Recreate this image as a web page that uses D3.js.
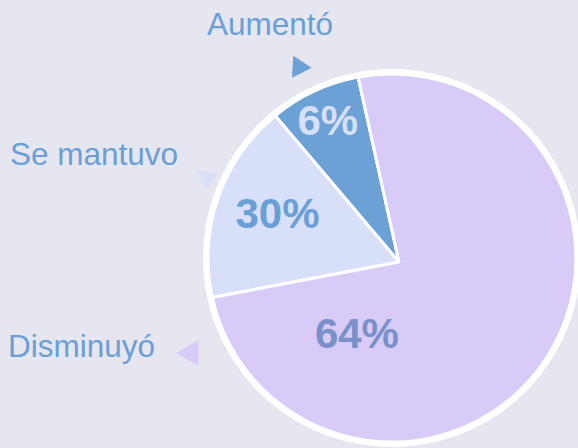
<!DOCTYPE html>
<html>
<head>
<meta charset="utf-8">
<script src="https://cdn.jsdelivr.net/npm/d3@7"></script>
<style>
  html, body { margin: 0; padding: 0; background: #e6e6f0; }
  svg { display: block; font-family: "Liberation Sans", Arial, Helvetica, sans-serif; }
</style>
</head>
<body>
<svg width="578" height="448"></svg>
<script>
// data
var categories = ["Aumentó", "Se mantuvo", "Disminuyó"];
var shares = [8, 17.5, 74.5];
var pctLabels = ["6%", "30%", "64%"];

// style
var fills = ["#6ca1d6", "#d8dff8", "#d9cbf8"];
var pctColors = ["#d8dff8", "#6a9fd6", "#7a90c8"];
var legendColor = "#6a9fd6";

(function pieIIFE(){
    var svg = d3.select("svg"),
        cx = 392, cy = 258, r = 184,
        vx = 399, vy = 262;   // slices meet a bit off-centre in the original

    var rad = Math.PI / 180,
        start = -10.6 * rad;

    var pie = d3.pie().sort(null).value(function(d) { return d; })
        .startAngle(start).endAngle(start - 2 * Math.PI);

    var arcs = pie(shares);

    // white rim
    svg.append("circle")
        .attr("cx", cx).attr("cy", cy).attr("r", r + 5)
        .attr("fill", "#fff");

    function slicePath(d) {
        var p = d3.path(),
            a0 = d.startAngle, a1 = d.endAngle;
        p.moveTo(vx, vy);
        p.lineTo(cx + r * Math.sin(a0), cy - r * Math.cos(a0));
        p.arc(cx, cy, r, a0 - Math.PI / 2, a1 - Math.PI / 2, a1 < a0);
        p.closePath();
        return p.toString();
    }

    svg.selectAll(".slice")
        .data(arcs)
        .enter()
        .append("path")
        .attr("class", "slice")
        .attr("d", slicePath)
        .attr("fill", function(d, i) { return fills[i]; })
        .attr("stroke", "#fff")
        .attr("stroke-width", 3)
        .attr("stroke-linejoin", "round");

    // percentage labels (polar position around the circle centre)
    var labelPolar = [{a: -25, d: 152}, {a: -68.5, d: 123}, {a: 205, d: 83}];

    svg.selectAll(".pct")
        .data(arcs)
        .enter()
        .append("text")
        .attr("class", "pct")
        .attr("x", function(d, i) { return cx + labelPolar[i].d * Math.sin(labelPolar[i].a * rad); })
        .attr("y", function(d, i) { return cy - labelPolar[i].d * Math.cos(labelPolar[i].a * rad) + 15; })
        .attr("text-anchor", "middle")
        .style("font-size", "42px")
        .style("font-weight", "bold")
        .style("fill", function(d, i) { return pctColors[i]; })
        .text(function(d, i) { return pctLabels[i]; });

    // legend: text + rotated triangle marker
    var legendText = [{x: 207, y: 35}, {x: 10, y: 165}, {x: 8, y: 357}];
    var markers = [
        {x: 299, y: 67, rot: 93, size: 210},
        {x: 207, y: 178, rot: 187, size: 200},
        {x: 191, y: 353, rot: 270, size: 290}
    ];

    var legend = svg.append("g").attr("class", "legend");

    legend.selectAll("text")
        .data(categories)
        .enter()
        .append("text")
        .attr("x", function(d, i) { return legendText[i].x; })
        .attr("y", function(d, i) { return legendText[i].y; })
        .style("font-size", "31.5px")
        .style("fill", legendColor)
        .text(function(d) { return d; });

    legend.selectAll("path")
        .data(categories)
        .enter()
        .append("path")
        .attr("d", function(d, i) { return d3.symbol(d3.symbolTriangle, markers[i].size)(); })
        .attr("transform", function(d, i) {
            return "translate(" + markers[i].x + "," + markers[i].y + ") rotate(" + markers[i].rot + ")";
        })
        .attr("fill", function(d, i) { return fills[i]; });
})();
</script>
</body>
</html>
